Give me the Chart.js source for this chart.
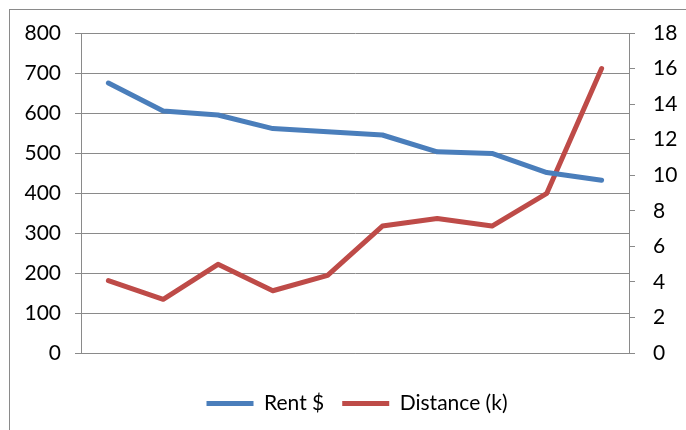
<!DOCTYPE html>
<html>
<head>
<meta charset="utf-8">
<script src="https://cdn.jsdelivr.net/npm/chart.js@4.4.1/dist/chart.umd.min.js"></script>
<style>
  html, body { margin: 0; padding: 0; background: #fff; }
  #wrap { position: relative; width: 686px; height: 430px; overflow: hidden; }
  #frame { position: absolute; left: 9px; top: 9px; width: 720px; height: 500px; border: 1px solid #8a8a8a; box-sizing: border-box; }
  canvas { position: absolute; left: 0; top: 0; }
</style>
</head>
<body>
<div id="wrap">
  <div id="frame"></div>
  <canvas id="c" width="686" height="430"></canvas>
</div>
<script>
const categories = ["1", "2", "3", "4", "5", "6", "7", "8", "9", "10"];
const rentValues = [675, 605, 595, 561, 553, 545, 503, 499, 451, 432];
const distanceValues = [4.07, 3.02, 4.99, 3.5, 4.37, 7.14, 7.57, 7.14, 8.98, 16];
const leftTicks = [0, 100, 200, 300, 400, 500, 600, 700, 800];
const rightTicks = [0, 2, 4, 6, 8, 10, 12, 14, 16, 18];

const FONT = "Lato, 'Open Sans', sans-serif";
const FS = 21;
const BLUE = "#4A7EBB";
const RED = "#BE4B48";
const GRID = "#8a8a8a";

const shiftLegend = {
  id: 'shiftLegend',
  afterLayout(chart) {
    if (chart.legend) { chart.legend.left += 14; chart.legend.right += 14; }
  }
};

new Chart(document.getElementById('c'), {
  type: 'line',
  data: {
    labels: categories,
    datasets: [
      { label: 'Rent $', data: rentValues, borderColor: BLUE, backgroundColor: BLUE, borderWidth: 5, pointRadius: 0, tension: 0, yAxisID: 'y', borderCapStyle: 'round', borderJoinStyle: 'round' },
      { label: 'Distance (k)', data: distanceValues, borderColor: RED, backgroundColor: RED, borderWidth: 5, pointRadius: 0, tension: 0, yAxisID: 'y1', borderCapStyle: 'round', borderJoinStyle: 'round' }
    ]
  },
  plugins: [shiftLegend],
  options: {
    responsive: false,
    animation: false,
    devicePixelRatio: 1,
    layout: { padding: { top: 0, bottom: 6, left: 0, right: 0 } },
    plugins: {
      tooltip: { enabled: false },
      legend: {
        position: 'bottom',
        labels: {
          font: { family: FONT, size: FS },
          color: '#000',
          boxWidth: 47,
          boxHeight: 5,
          padding: 18,
          generateLabels(chart) {
            return chart.data.datasets.map((ds, i) => ({
              text: ds.label, fillStyle: ds.borderColor, strokeStyle: ds.borderColor,
              lineWidth: 0, hidden: false, datasetIndex: i, fontColor: '#000'
            }));
          }
        }
      }
    },
    scales: {
      x: {
        offset: true,
        grid: { display: false, drawTicks: false },
        border: { display: true, color: GRID, width: 1 },
        ticks: { display: false },
        afterFit(s) { s.height = 22; }
      },
      y: {
        position: 'left',
        min: 0, max: 800,
        afterBuildTicks(s) { s.ticks = leftTicks.map(v => ({ value: v })); },
        ticks: { font: { family: FONT, size: FS }, color: '#000', padding: 14 },
        grid: { color: GRID, lineWidth: 1, tickLength: 6 },
        border: { color: GRID, width: 1 },
        afterFit(s) { s.width = 81; s.paddingTop = 33; }
      },
      y1: {
        position: 'right',
        min: 0, max: 18,
        afterBuildTicks(s) { s.ticks = rightTicks.map(v => ({ value: v })); },
        ticks: { font: { family: FONT, size: FS }, color: '#000', padding: 18 },
        grid: { drawOnChartArea: false, color: GRID, lineWidth: 1, tickLength: 6 },
        border: { color: GRID, width: 1 },
        afterFit(s) { s.width = 57; s.paddingTop = 33; }
      }
    }
  }
});
</script>
</body>
</html>
